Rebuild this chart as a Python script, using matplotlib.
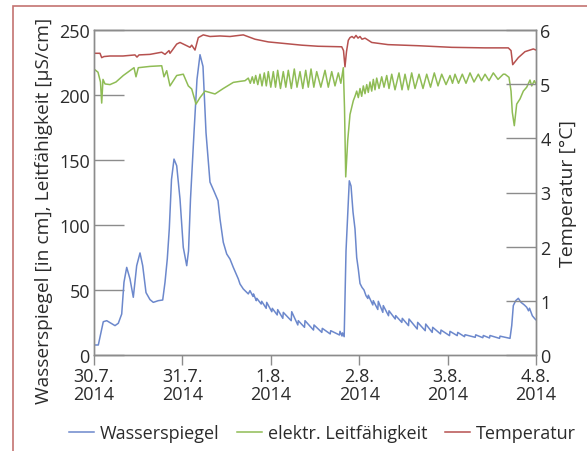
import matplotlib
matplotlib.use("Agg")
import matplotlib.pyplot as plt
from matplotlib.patches import Rectangle

plt.rcParams['font.family'] = ['Open Sans', 'DejaVu Sans']

# time axis in hours since 30.7.2014 00:00
day_ticks = [0, 24, 48, 72, 96, 120]
day_labels = ["30.7.\n2014", "31.7.\n2014", "1.8.\n2014", "2.8.\n2014", "3.8.\n2014", "4.8.\n2014"]

# Wasserspiegel [cm]
wasser_h = [0, 1.17, 2.52, 3.45, 5.70, 6.60, 7.52, 8.14, 8.88, 9.77, 10.67, 11.59, 12.49, 13.22,
            14.12, 15.20, 16.10, 17.46, 18.65, 19.28, 19.90, 20.44, 21.04, 21.72, 22.45, 23.35,
            24.24, 25.17, 25.66, 26.20, 27.15, 27.96, 28.78, 29.59, 30.41, 31.49, 32.58, 33.67,
            34.21, 35.10, 36.03, 36.92, 37.82, 39.18, 39.64, 40.53, 41.89,
            42.35, 43.17, 43.30, 44.06, 44.20, 45.39, 45.53, 46.75, 46.89, 48.27, 48.41, 49.74,
            49.87, 51.26, 51.39, 53.54, 53.68, 55.33, 55.47, 57.15, 57.29, 59.59, 59.73, 61.85,
            61.98, 64.13, 64.26, 66.65, 66.79, 67.33, 67.47, 67.92,
            68.42, 69.31, 69.78, 70.32, 70.86, 71.32, 71.76, 72.22, 72.76, 73.30, 73.85,
            74.34, 74.47, 75.69, 75.83, 77.05, 77.19, 78.41, 78.54, 79.96, 80.09, 81.78, 81.91,
            83.57, 83.70, 85.39, 85.52, 87.75, 87.88, 89.92, 90.06, 91.82, 91.96, 94.07, 94.21,
            96.52, 96.65, 98.61, 98.75, 100.59, 100.73, 103.50, 103.63, 105.56, 105.70, 107.38,
            107.51, 110.10, 110.23, 112.94,
            113.41, 113.84, 114.49, 115.20, 115.93, 116.83, 117.48, 117.97, 118.24, 119.00, 119.73, 120]
wasser = [7.7, 7.7, 25.6, 26.4, 22.6, 24.4, 31.5, 56, 67.4, 58.5, 44.4, 68.7, 78.5, 68.7,
          48, 42.6, 40.5, 41.8, 42.3, 56, 74, 97, 135, 150.7, 145.6, 120,
          82.8, 68.7, 80, 120, 171, 212, 231, 222, 171, 133, 126, 118.7,
          104.6, 86.7, 77.7, 73.8, 67.4, 58.5, 54.6, 50.8, 47,
          49.5, 45, 47, 41.8, 43.6, 39.2, 41.3, 35.9, 40.5, 33.3, 35.9, 30.8,
          34.9, 28.2, 32.8, 26.4, 33.3, 23.1, 26.4, 21.3, 26.4, 19.2, 23.1, 17.4,
          20.5, 16.2, 18.7, 15.4, 18.2, 14.6, 17, 14.1,
          80, 134, 130, 110, 97, 75, 66, 55, 52, 50, 45.6,
          43.5, 46, 38.5, 41.8, 35, 41.3, 32.8, 38, 30.2, 34, 27.7, 30.3,
          25.1, 28.2, 22.6, 27.7, 20, 25.1, 18.7, 23.8, 17.4, 21.3, 16.2, 19.2,
          14.9, 18.2, 14.9, 17.4, 14.1, 15.6, 13.6, 15.5, 13.3, 15, 13.1,
          15, 12.8, 14.5, 12.8,
          22.6, 38, 41.8, 43.6, 40.5, 38.5, 36.7, 34, 36, 30.2, 27.7, 27]

# elektr. Leitfaehigkeit [uS/cm]
leit_h = [0, 1.09, 1.76, 2.09, 2.44, 2.99, 4.34, 5.97, 7.95, 9.77, 10.86, 11.40, 12.03, 15.20,
          18.38, 19.00, 19.74, 20.63, 22.45, 24.24, 25.60, 26.53, 27.69, 28.78, 30.14, 32.85,
          35.10, 37.82, 39.64, 41.00,
          41.89, 42.43, 42.98, 43.44, 43.90, 44.47, 45.07, 45.61, 46.24, 46.78, 47.32, 48.00,
          48.68, 49.28, 49.87, 50.63, 51.39, 52.07, 52.75, 53.57, 54.38, 55.11, 55.93, 56.69,
          57.48, 58.18, 58.92, 59.68, 60.46, 61.58, 62.72, 63.61, 64.54, 65.43, 66.33, 67.01,
          67.69, 68.01, 68.34, 68.88, 69.50, 70.40, 70.86,
          71.32, 71.76, 72.22, 72.68, 73.12, 73.58, 74.04, 74.47, 74.93, 75.40, 75.83, 76.29,
          76.75, 77.38, 78.11, 78.74, 79.47, 80.09, 80.83, 81.72, 82.81, 83.62, 84.44, 85.33,
          86.25, 87.15, 88.24, 89.32, 90.33, 91.36, 92.39, 93.40, 94.40, 95.57, 96.65, 97.33,
          98.01, 98.96, 99.99, 101.00, 102.08, 103.17, 104.34, 105.21, 106.16, 107.24, 108.41,
          109.69, 111.12,
          111.59, 112.67, 113.22, 113.57, 114.11, 114.76, 115.66, 116.56, 117.48, 118.37,
          118.84, 119.54, 120]
leit = [220, 217.5, 210, 193.8, 212, 208.5, 208, 210, 215, 218.7, 221, 214, 221, 222,
        222.5, 214, 218.7, 207, 215, 216, 207, 204.6, 193, 198, 203, 200.8,
        205, 209.7, 210.5, 211,
        213, 209, 214, 209, 215, 208, 216, 207, 217, 207, 218, 206,
        218, 206, 219, 205, 218, 206, 219, 205, 220, 206, 218, 205,
        219, 206, 220, 206, 218, 206, 219, 206, 218, 207, 217, 209,
        221, 190, 137, 165, 185, 195.6, 199,
        203, 198, 205, 199, 207, 201, 208, 202, 210, 203, 212, 204,
        213, 205, 214, 206, 215, 205, 216, 204, 217, 204, 216, 204,
        217, 205, 216, 205, 216, 206, 217, 207, 216, 208, 215, 209,
        216, 209, 216, 209, 217, 210, 216, 211, 216, 211, 217,
        212, 216,
        216, 213.6, 203, 186.7, 176.4, 193, 197, 203, 206, 211.5,
        207, 211, 208.5]

# Temperatur [degC]
temp_h = [0, 1.63, 2.09, 2.72, 4.34, 7.87, 11.13, 11.67, 12.22, 15.20, 18.38, 19.28, 20.36,
          20.63, 21.18, 22.45, 23.35, 25.17, 26.06, 26.53, 27.42, 28.32, 29.67, 31.49, 34.21,
          36.92, 40.53, 43.71, 47.32, 51.86, 56.39, 60.82, 67.25, 67.74, 68.14, 68.55, 69.04,
          69.50, 70.05, 70.59, 71.13, 71.68, 72.22, 72.76, 73.58, 75.40, 79.82, 87.97, 97.12,
          106.16, 112.48, 113.22, 113.68, 115.20, 117.01, 119.27, 120]
temp = [5.57, 5.57, 5.49, 5.51, 5.52, 5.52, 5.54, 5.50, 5.54, 5.55, 5.59, 5.55, 5.62,
        5.57, 5.62, 5.74, 5.77, 5.71, 5.68, 5.72, 5.63, 5.86, 5.91, 5.88, 5.89,
        5.88, 5.91, 5.83, 5.78, 5.75, 5.72, 5.70, 5.69, 5.62, 5.32, 5.60, 5.81,
        5.86, 5.88, 5.85, 5.90, 5.85, 5.88, 5.83, 5.85, 5.77, 5.73, 5.71, 5.68,
        5.67, 5.67, 5.62, 5.36, 5.49, 5.60, 5.65, 5.63]

text_col = '#2b2b2b'
axis_col = '#8c8c8c'
blue = '#6c88cc'
green = '#8fbc55'
red = '#b6514f'

fig = plt.figure(figsize=(5.87, 4.52), dpi=100)
ax = fig.add_axes([94 / 587, 96 / 452, 442 / 587, 325 / 452])
ax2 = ax.twinx()

l1, = ax.plot(wasser_h, wasser, color=blue, lw=1.1, label='Wasserspiegel')
l2, = ax.plot(leit_h, leit, color=green, lw=1.1, label='elektr. Leitfähigkeit')
l3, = ax2.plot(temp_h, temp, color=red, lw=1.1, label='Temperatur')

ax.set_xlim(0, 120)
ax.set_ylim(0, 250)
ax2.set_ylim(0, 6)
ax.set_yticks([0, 50, 100, 150, 200, 250])
ax2.set_yticks([0, 1, 2, 3, 4, 5, 6])
ax.set_xticks(day_ticks)
ax.set_xticklabels(day_labels, linespacing=1.0)

for a in (ax, ax2):
    for s in a.spines.values():
        s.set_color(axis_col)
        s.set_linewidth(1.0)

ax.tick_params(axis='y', direction='in', length=21.6, width=1, color=axis_col,
               labelsize=13, labelcolor=text_col, pad=3)
ax.tick_params(axis='x', direction='out', length=7, width=1, color=axis_col,
               labelsize=13, labelcolor=text_col, pad=2)
ax2.tick_params(axis='y', direction='in', length=21.6, width=1, color=axis_col,
                labelsize=13, labelcolor=text_col, pad=3)

ax.set_ylabel('Wasserspiegel [in cm], Leitfähigkeit [µS/cm]', fontsize=13.8, color=text_col)
ax.yaxis.set_label_coords(-0.093, 0.446)
ax2.set_ylabel('Temperatur [°C]', fontsize=14, color=text_col, labelpad=6)

fig.legend(handles=[l1, l2, l3], loc='center', bbox_to_anchor=(0.549, 1 - 434 / 452), ncol=3,
           frameon=False, fontsize=13, handlelength=1.4, handletextpad=0.33,
           columnspacing=0.95, labelcolor=text_col)

# outer frame
fig.patches.append(Rectangle((13 / 587, -0.05), 1.2, 1.05 - 7 / 452,
                             transform=fig.transFigure, fill=False,
                             edgecolor='#c47371', lw=1.2))

fig.savefig('out.png', dpi=100)
